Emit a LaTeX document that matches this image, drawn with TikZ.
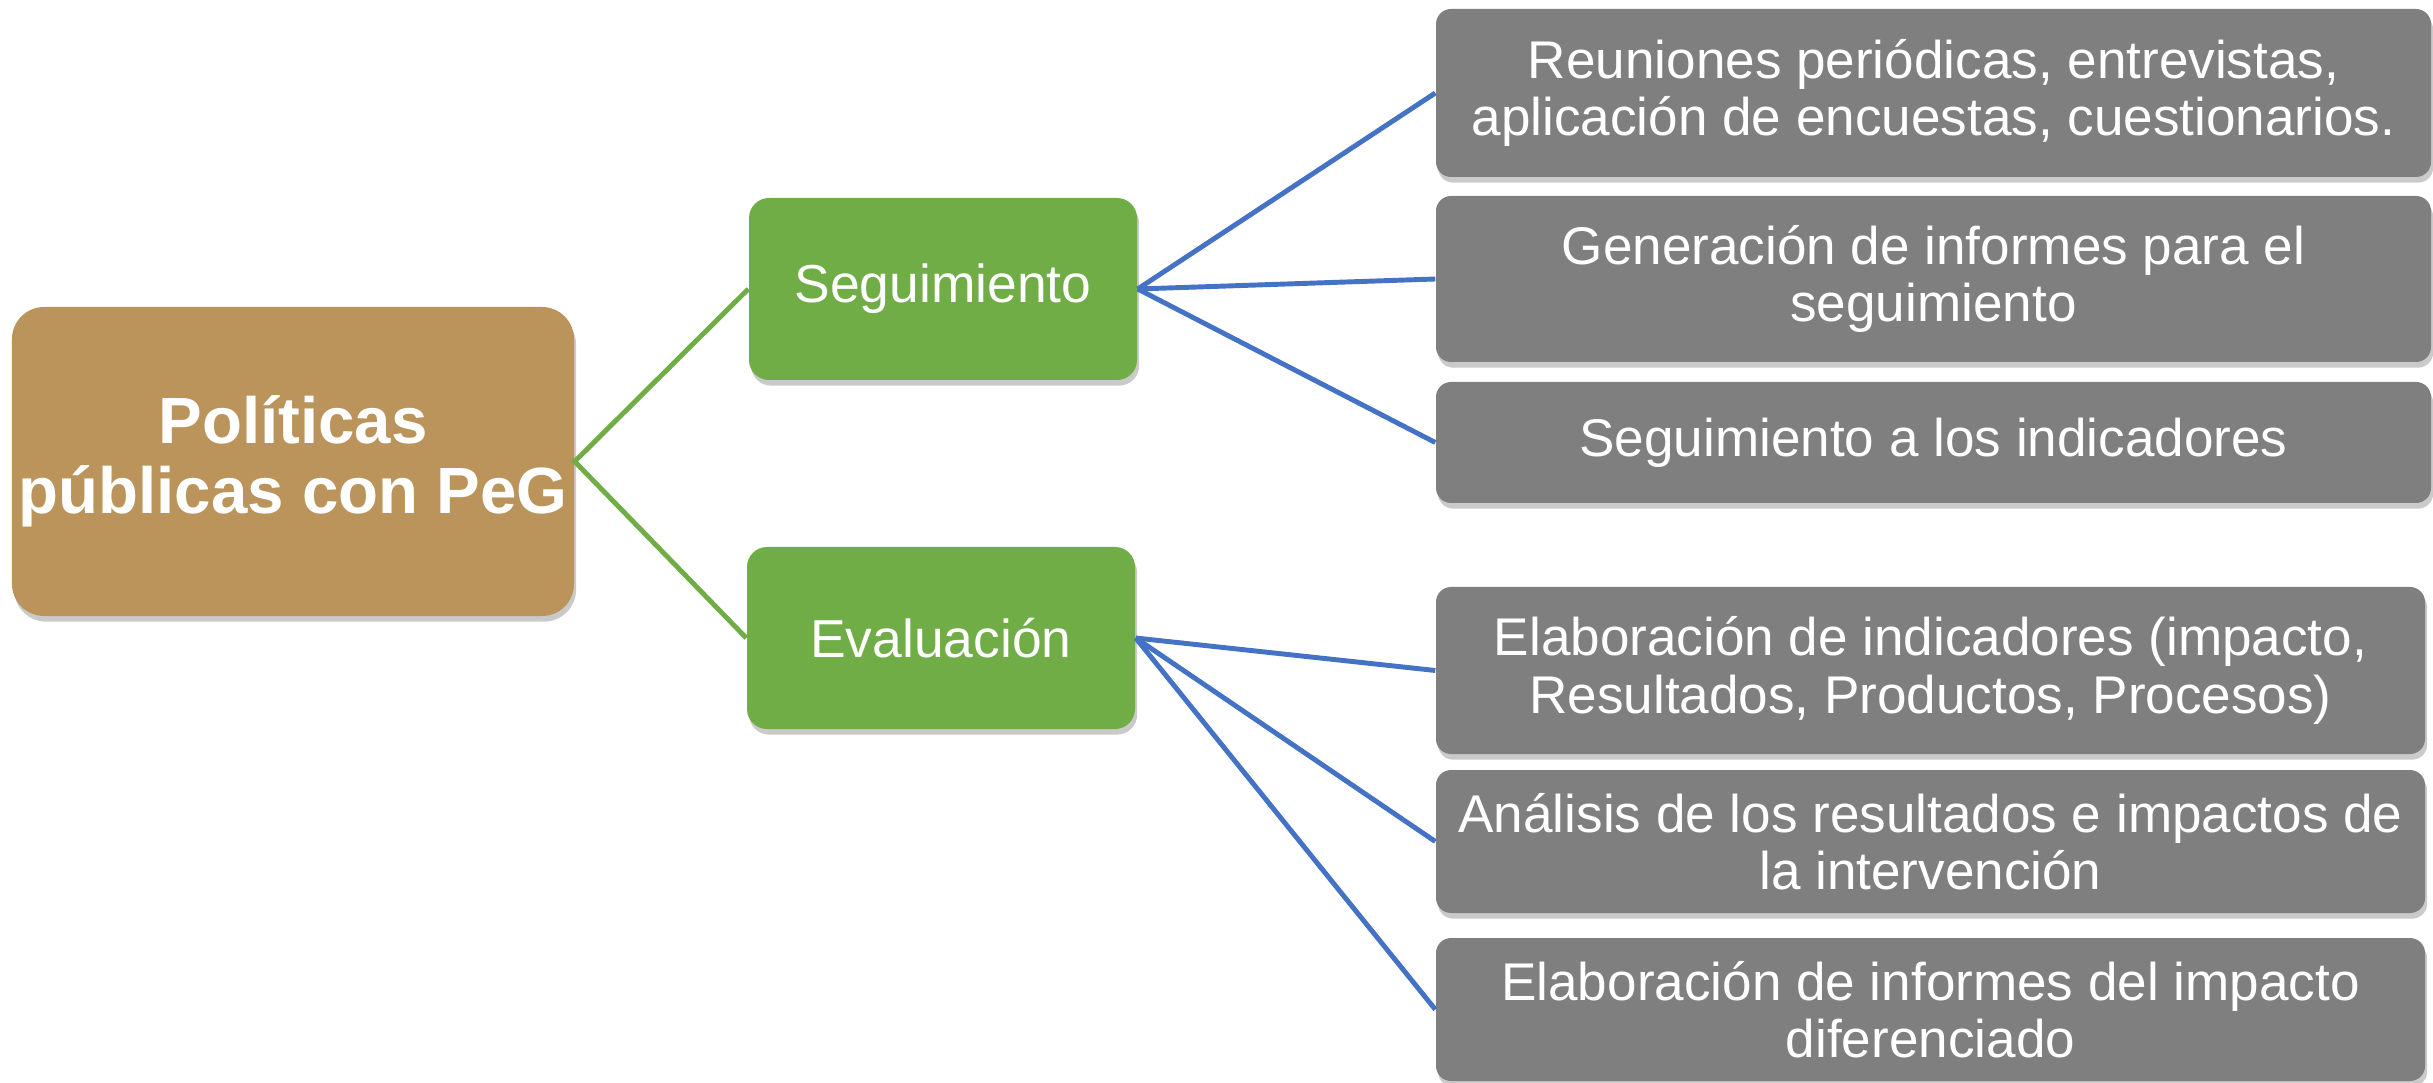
\documentclass[tikz,border=0pt]{standalone}
\usepackage{fontspec}
\setmainfont{Liberation Sans}
\usetikzlibrary{shadows}
\definecolor{rootbrown}{RGB}{187,148,92}
\definecolor{lvlgreen}{RGB}{112,173,71}
\definecolor{leafgray}{RGB}{127,127,127}
\definecolor{linkblue}{RGB}{68,114,196}
\tikzset{
  boxbase/.style={inner sep=0pt, align=center, text=white,
    drop shadow={shadow xshift=0.6pt, shadow yshift=-1.6pt, opacity=0.35, fill=black!60}},
  rootbox/.style={boxbase, fill=rootbrown, rounded corners=0.32cm,
    minimum width=5.62cm, minimum height=3.09cm,
    font=\fontsize{18.6pt}{20pt}\selectfont\bfseries},
  midbox/.style={boxbase, fill=lvlgreen, rounded corners=0.2cm,
    minimum width=3.88cm, minimum height=1.82cm,
    font=\fontsize{15.2pt}{17pt}\selectfont},
  leafbox/.style={boxbase, fill=leafgray, rounded corners=0.15cm,
    font=\fontsize{15.1pt}{16.3pt}\selectfont},
  greenlink/.style={draw=lvlgreen, line width=1.4pt},
  bluelink/.style={draw=linkblue, line width=1.4pt}
}
\begin{document}
\begin{tikzpicture}
\useasboundingbox (0,0) rectangle (24.33,-10.83);
\node[rootbox] (root) at (2.93,-4.615) {Políticas\\públicas con PeG};
\node[midbox] (seg) at (9.43,-2.89) {Seguimiento};
\node[midbox] (eva) at (9.41,-6.38) {Evaluación};
\node[leafbox, minimum width=9.95cm, minimum height=1.68cm] (l1) at (19.335,-0.93)
  {Reuniones periódicas, entrevistas,\\aplicación de encuestas, cuestionarios.};
\node[leafbox, minimum width=9.95cm, minimum height=1.66cm] (l2) at (19.335,-2.79)
  {Generación de informes para el\\seguimiento};
\node[leafbox, minimum width=9.95cm, minimum height=1.21cm] (l3) at (19.335,-4.425)
  {Seguimiento a los indicadores};
\node[leafbox, minimum width=9.89cm, minimum height=1.67cm] (l4) at (19.305,-6.705)
  {Elaboración de indicadores (impacto,\\Resultados, Productos, Procesos)};
\node[leafbox, minimum width=9.89cm, minimum height=1.43cm] (l5) at (19.305,-8.415)
  {Análisis de los resultados e impactos de\\la intervención};
\node[leafbox, minimum width=9.89cm, minimum height=1.43cm] (l6) at (19.305,-10.095)
  {Elaboración de informes del impacto\\diferenciado};
\draw[greenlink] (seg.west) -- (root.east) -- (eva.west);
\foreach \t in {l1,l2,l3} \draw[bluelink] (seg.east) -- (\t.west);
\foreach \t in {l4,l5,l6} \draw[bluelink] (eva.east) -- (\t.west);
\end{tikzpicture}
\end{document}
